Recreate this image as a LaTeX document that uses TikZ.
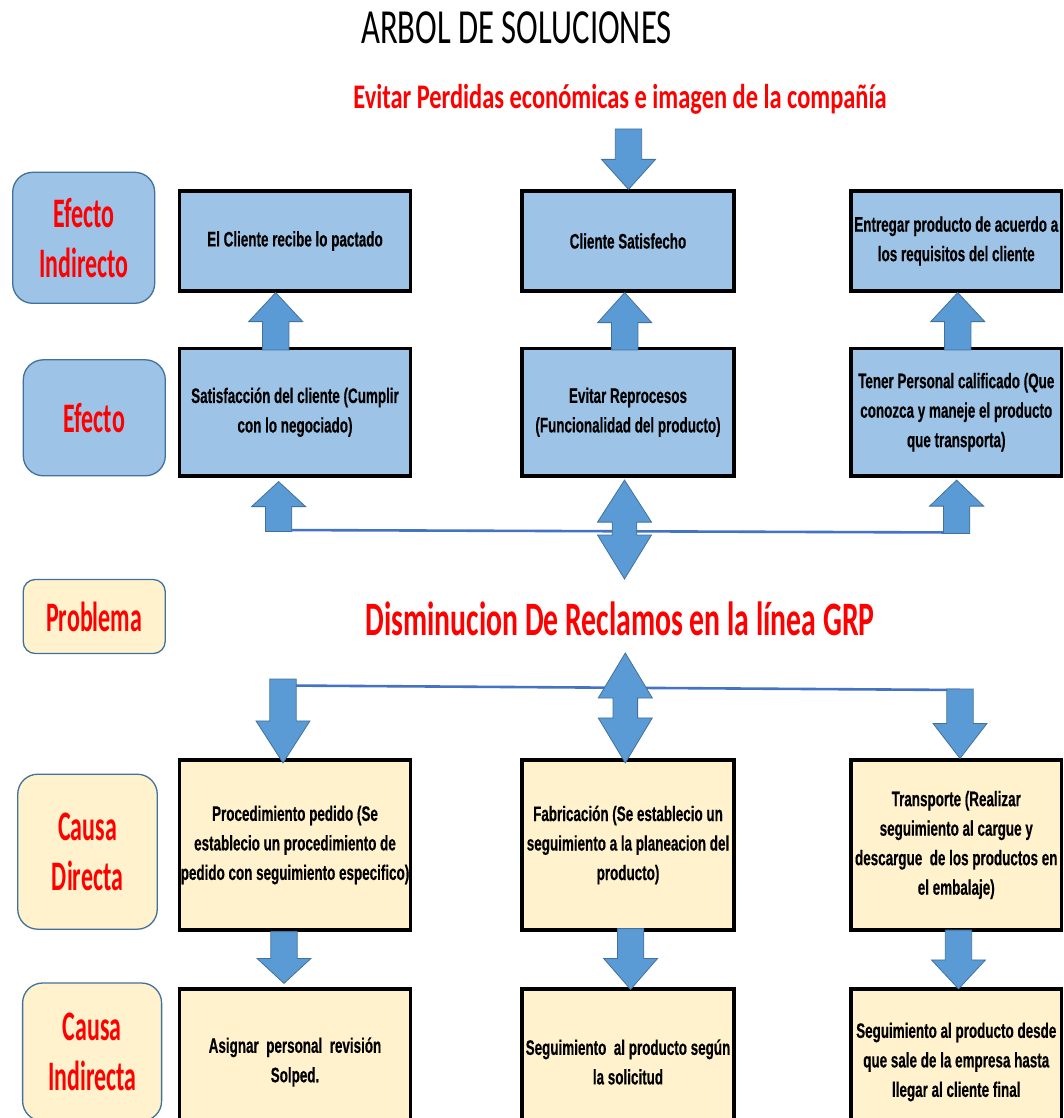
\documentclass[tikz,border=0pt]{standalone}
\usepackage{fontspec}
\setmainfont{Liberation Sans}
\newfontfamily\titlefont[FakeStretch=0.667]{Carlito}
\newfontfamily\headfont[FakeStretch=0.708]{Carlito}
\newfontfamily\probfont[FakeStretch=0.619]{Carlito}
\newfontfamily\labelfont[FakeStretch=0.57]{Carlito}
\newfontfamily\cellfont[FakeStretch=0.64, BoldFeatures={FakeBold=0.4}]{Liberation Sans}
\usetikzlibrary{calc}

\definecolor{boxblue}{HTML}{9DC3E6}
\definecolor{cream}{HTML}{FFF2CC}
\definecolor{arrowfill}{HTML}{5B9BD5}
\definecolor{arrowedge}{HTML}{41719C}
\definecolor{linkblue}{HTML}{4472C4}
\definecolor{tagedge}{HTML}{41719C}

\tikzset{
  cell/.style={draw=black, line width=3.2pt, align=center, inner sep=0pt,
    font=\cellfont\bfseries\fontsize{21}{29.5}\selectfont},
  bluecell/.style={cell, fill=boxblue},
  creamcell/.style={cell, fill=cream},
  tag/.style={draw=tagedge, line width=1.3pt, rounded corners=20pt, align=center,
    text=red, inner sep=0pt, font=\labelfont\bfseries\fontsize{42}{50}\selectfont},
  bluetag/.style={tag, fill=boxblue},
  creamtag/.style={tag, fill=cream},
  blockarrow/.style={fill=arrowfill, draw=arrowedge, line width=0.8pt, line join=miter},
  link/.style={draw=linkblue, line width=2.6pt}
}

% vertical block arrow: start of the shaft, tip, head length
\newcommand\BlockArrow[3]{%
  \filldraw[blockarrow] let \p1=#1, \p2=#2, \n1={sign(\y2-\y1)} in
    ({\x1-13.2pt},\y1) -- ({\x1-13.2pt},{\y2-\n1*#3pt}) -- ({\x1-27pt},{\y2-\n1*#3pt})
    -- (\x1,\y2) -- ({\x1+27pt},{\y2-\n1*#3pt}) -- ({\x1+13.2pt},{\y2-\n1*#3pt})
    -- ({\x1+13.2pt},\y1) -- cycle;}

% vertical double-headed block arrow: tip one, tip two, head lengths
\newcommand\DoubleArrow[4]{%
  \filldraw[blockarrow] let \p1=#1, \p2=#2, \n1={sign(\y2-\y1)} in
    (\x1,\y1) -- ({\x1+27pt},{\y1+\n1*#3pt}) -- ({\x1+12.3pt},{\y1+\n1*#3pt})
    -- ({\x1+12.3pt},{\y2-\n1*#4pt}) -- ({\x1+27pt},{\y2-\n1*#4pt}) -- (\x1,\y2)
    -- ({\x1-27pt},{\y2-\n1*#4pt}) -- ({\x1-12.3pt},{\y2-\n1*#4pt})
    -- ({\x1-12.3pt},{\y1+\n1*#3pt}) -- ({\x1-27pt},{\y1+\n1*#3pt}) -- cycle;}

\begin{document}
\begin{tikzpicture}[x=1pt, y=-1pt]
\path[use as bounding box] (0,0) rectangle (1063,1118);
\clip (0,0) rectangle (1063,1118);
\fill[white] (0,0) rectangle (1063,1118);

% headings
\node[anchor=base, inner sep=0pt] (T) at (516.5,43.3)
  {\titlefont\fontsize{49}{49}\selectfont ARBOL DE SOLUCIONES};
\node[anchor=base, inner sep=0pt, text=red] (S) at (620,108.3)
  {\headfont\bfseries\fontsize{34.5}{34.5}\selectfont Evitar Perdidas económicas e imagen de la compañía};
\node[anchor=base, inner sep=0pt, text=red] (P) at (620,635)
  {\probfont\bfseries\fontsize{48}{48}\selectfont Disminucion De Reclamos en la línea GRP};

% row labels
\node[bluetag, minimum width=142pt, minimum height=131pt] (L1) at (83.7,237.8) {Efecto\\Indirecto};
\node[bluetag, minimum width=142pt, minimum height=116pt] (L2) at (94.3,417.8) {Efecto};
\node[creamtag, rounded corners=12pt, minimum width=142pt, minimum height=74pt] (L3) at (94.2,616.5) {Problema};
\node[creamtag, minimum width=139.5pt, minimum height=155pt] (L4) at (87.5,851.7) {Causa\\Directa};
\node[creamtag, minimum width=139pt, minimum height=138pt] (L5) at (92.1,1052) {Causa\\Indirecta};

% effects
\node[bluecell, minimum width=231pt, minimum height=100pt] (A1) at (295,241) {El Cliente recibe lo pactado};
\node[bluecell, minimum width=212pt, minimum height=100pt] (B1) at (628,241) {Cliente Satisfecho};
\node[bluecell, minimum width=210.5pt, minimum height=100pt] (C1) at (956.25,241) {Entregar producto de acuerdo a\\los requisitos del cliente};
\node[bluecell, minimum width=231pt, minimum height=127.5pt] (A2) at (295,412.25) {Satisfacción del cliente (Cumplir\\con lo negociado)};
\node[bluecell, minimum width=212pt, minimum height=127.5pt] (B2) at (628,412.25) {Evitar Reprocesos\\(Funcionalidad del producto)};
\node[bluecell, minimum width=210.5pt, minimum height=127.5pt] (C2) at (956.25,412.25) {Tener Personal calificado (Que\\conozca y maneje el producto\\que transporta)};

% causes
\node[creamcell, minimum width=231pt, minimum height=170pt] (A3) at (295,845) {Procedimiento pedido (Se\\establecio un procedimiento de\\pedido con seguimiento especifico)};
\node[creamcell, minimum width=212pt, minimum height=170pt] (B3) at (628,845) {Fabricación (Se establecio un\\seguimiento a la planeacion del\\producto)};
\node[creamcell, minimum width=210.5pt, minimum height=170pt] (C3) at (956.25,845) {Transporte (Realizar\\seguimiento al cargue y\\descargue~ de los productos en\\el embalaje)};
\node[creamcell, minimum width=231pt, minimum height=146pt] (A4) at (295,1062) {Asignar~ personal~ revisión\\Solped.};
\node[creamcell, minimum width=212pt, minimum height=146pt] (B4) at (628,1062) {Seguimiento~ al producto según\\la solicitud};
\node[creamcell, minimum width=210.5pt, minimum height=146pt] (C4) at (956.25,1062) {Seguimiento al producto desde\\que sale de la empresa hasta\\llegar al cliente final};

% junctions of the two branch lines and free arrow ends
\coordinate (tA) at (628.5,129);
\coordinate (jUL) at (278.6,531.5);
\coordinate (jUR) at (956.6,533.5);
\coordinate (pT) at (624.5,579);
\coordinate (pB) at (625.3,653);
\coordinate (jLL) at (283,685.5);
\coordinate (jLR) at (960,690);

% branch lines
\draw[link] ([yshift=1.5pt]jUL) -- ([yshift=1pt]jUR);
\draw[link] (jLL) -- (jLR);

% arrows into the top row
\BlockArrow{(tA)}{(B1.north)}{30}
\BlockArrow{([xshift=-19.3pt,yshift=-3pt]A2.north)}{(A1.south)}{29}
\BlockArrow{([xshift=-3.3pt,yshift=-3pt]B2.north)}{(B1.south)}{30}
\BlockArrow{([xshift=1.5pt,yshift=-3pt]C2.north)}{(C1.south)}{29}

% from the problem up to the effects
\BlockArrow{(jUL)}{([yshift=-4pt]A2.south)}{25}
\BlockArrow{(jUR)}{([yshift=-2.5pt]C2.south)}{26}
\DoubleArrow{([xshift=-3.5pt,yshift=-2.5pt]B2.south)}{(pT)}{42}{44}

% from the problem down to the causes
\BlockArrow{([yshift=6.5pt]jLL)}{([yshift=-4.5pt]A3.north)}{42}
\BlockArrow{([yshift=1pt]jLR)}{(C3.north)}{35}
\DoubleArrow{(pB)}{([yshift=-4.5pt]B3.north)}{45}{45}

% direct to indirect causes
\BlockArrow{([xshift=-11pt]A3.south)}{([yshift=4pt]A4.north)}{25}
\BlockArrow{([xshift=2.6pt,yshift=3pt]B3.south)}{([yshift=-2pt]B4.north)}{31}
\BlockArrow{([xshift=2.25pt,yshift=1.5pt]C3.south)}{([yshift=-1.5pt]C4.north)}{29}
\end{tikzpicture}
\end{document}
